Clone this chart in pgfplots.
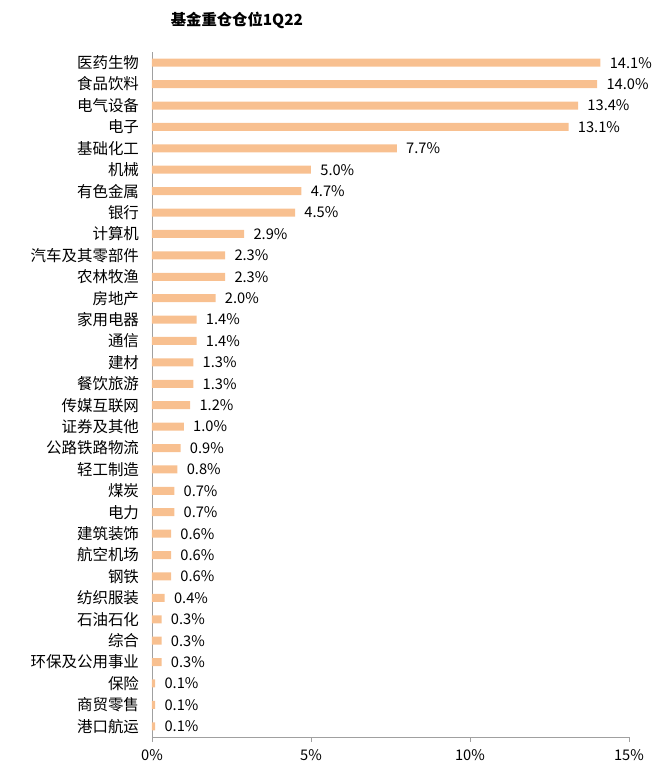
\documentclass[border=0pt]{standalone}
\usepackage{fontspec}
\setmainfont{Noto Sans CJK SC}
\usepackage{pgfplots}
\pgfplotsset{compat=1.18}
\definecolor{BarPeach}{RGB}{248,192,144}
\definecolor{AxisGray}{RGB}{160,160,160}

\pgfplotstableread[col sep=comma]{
idx,val
0,14.1
1,14.0
2,13.4
3,13.1
4,7.7
5,5.0
6,4.7
7,4.5
8,2.9
9,2.3
10,2.3
11,2.0
12,1.4
13,1.4
14,1.3
15,1.3
16,1.2
17,1.0
18,0.9
19,0.8
20,0.7
21,0.7
22,0.6
23,0.6
24,0.6
25,0.4
26,0.3
27,0.3
28,0.3
29,0.1
30,0.1
31,0.1
}\shares

\begin{document}
\begin{tikzpicture}
\begin{axis}[
    name=ax,
    scale only axis,
    width=357.75pt,
    height=513.75pt,
    xbar,
    bar width=6pt,
    y dir=reverse,
    xmin=0, xmax=15,
    ymin=-0.5, ymax=31.5,
    axis lines=left,
    axis line style={draw=AxisGray, -},
    tick align=outside,
    major tick length=3.75pt,
    minor tick length=3.75pt,
    xtick={0,5,10,15},
    xticklabels={0\%,5\%,10\%,15\%},
    xtick style={draw=AxisGray},
    ytick={0,...,31},
    yticklabels={医药生物,食品饮料,电气设备,电子,基础化工,机械,有色金属,银行,计算机,汽车及其零部件,农林牧渔,房地产,家用电器,通信,建材,餐饮旅游,传媒互联网,证券及其他,公路铁路物流,轻工制造,煤炭,电力,建筑装饰,航空机场,钢铁,纺织服装,石油石化,综合,环保及公用事业,保险,商贸零售,港口航运},
    ytick style={draw=none},
    minor ytick={-0.5,0.5,...,31.5},
    minor tick style={draw=AxisGray},
    yticklabel style={font=\fontsize{11.6}{13}\selectfont, xshift=-2.5pt},
    xticklabel style={font=\fontsize{11}{13}\selectfont, yshift=-2pt},
    title={\textbf{基金重仓仓位1Q22}},
    title style={at={(0.178,1)}, anchor=center, yshift=18pt, font=\fontsize{11.5}{13}\selectfont},
    nodes near coords={\pgfmathprintnumber[fixed,fixed zerofill,precision=1]{\pgfplotspointmeta}\%},
    nodes near coords style={font=\fontsize{11}{13}\selectfont, /pgf/number format/assume math mode=true, xshift=3.5pt},
    clip=false,
]
\addplot[fill=BarPeach, draw=none] table[x=val, y=idx] {\shares};
\coordinate (bl) at (axis cs:0,31.5);
\coordinate (tr) at (axis cs:15,-0.5);
\end{axis}
\pgfresetboundingbox
\path ([xshift=-114pt,yshift=-31.5pt]bl) rectangle ([xshift=26.25pt,yshift=39pt]tr);
\end{tikzpicture}
\end{document}
